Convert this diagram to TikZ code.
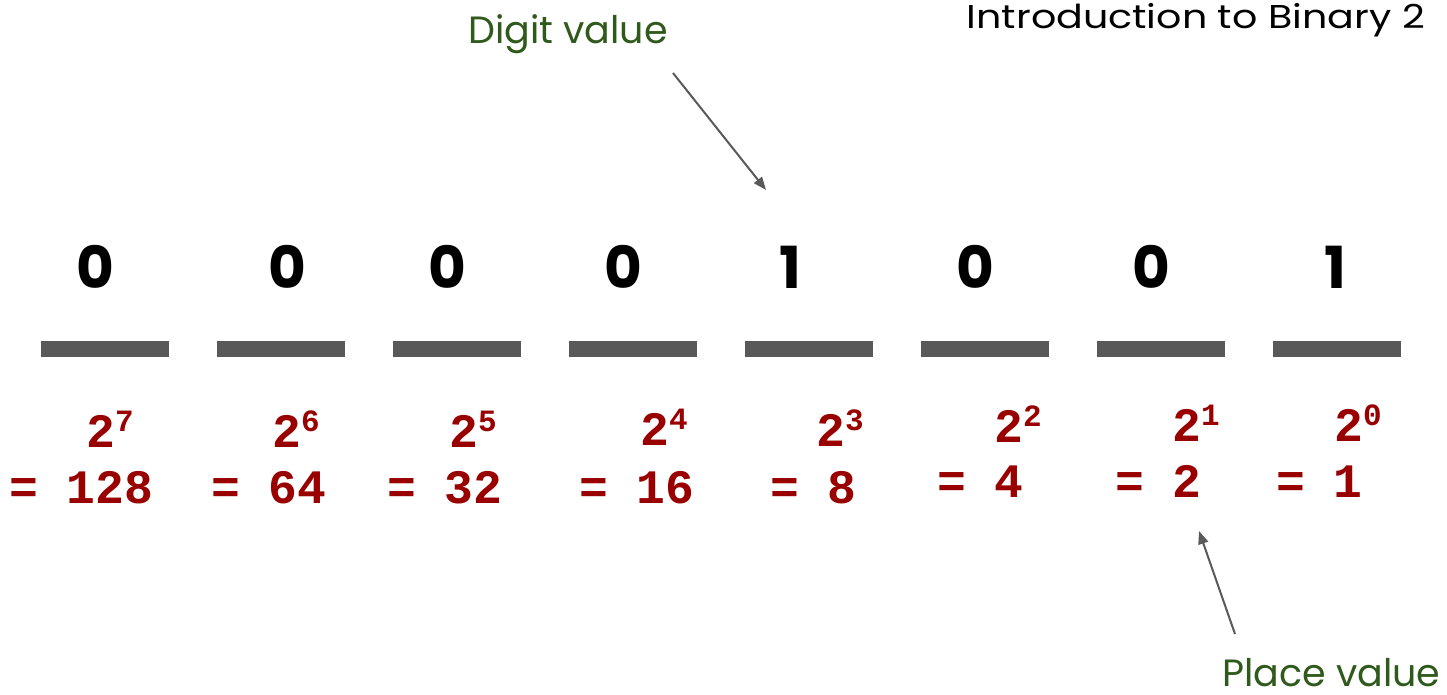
\documentclass[tikz,border=0pt]{standalone}
\usepackage{fontspec}
\setmainfont{Poppins}
\newfontfamily\widefont{Poppins}[FakeStretch=1.2]
\newfontfamily\monob{Liberation Mono}[BoldFont={Liberation Mono Bold}]
\usetikzlibrary{arrows.meta}
\definecolor{dgreen}{HTML}{2F5A1C}
\definecolor{dred}{HTML}{990000}
\definecolor{bargray}{HTML}{595959}
\tikzset{
  bitdigit/.style={font=\fontsize{58}{60}\selectfont\bfseries, anchor=base, inner sep=0pt},
  bar/.style={fill=bargray, draw=none},
  powtxt/.style={font=\fontsize{48}{50}\monob\bfseries, text=dred, anchor=base west, inner sep=0pt},
  eqtxt/.style={font=\fontsize{48}{50}\monob\bfseries, text=dred, anchor=base west, inner sep=0pt},
  labtxt/.style={font=\fontsize{38}{40}\selectfont, text=dgreen, inner sep=0pt},
  pointer/.style={draw=bargray, line width=2pt, -{Triangle[length=13pt,width=10pt]}},
}
\newcommand{\pw}[1]{2\raisebox{16pt}{\fontsize{31}{33}\selectfont #1}}
\begin{document}
\begin{tikzpicture}[x=1pt,y=-1pt]
\useasboundingbox (0,0) rectangle (1447,694);
% title
\node[font=\fontsize{33}{36}\widefont, anchor=base east, inner sep=0pt] (title) at (1425,28) {Introduction to Binary 2};
% labels
\node[labtxt, anchor=base west] (digitlab) at (468,43) {Digit value};
\node[labtxt, anchor=base west, text depth=0pt] (placelab) at (1222,686) {Place value};
% digits
\foreach \x/\d [count=\i] in {95/0,287/0,447/0,623/0,790/1,975/0,1151/0,1335/1}
  \node[bitdigit] (d\i) at (\x,288) {\d};
% bars
\foreach \x [count=\i] in {41,217,393,569,745,921,1097,1273}
  \fill[bar] (\x,341) rectangle ++(128,16);
% powers
\node[powtxt] (p7) at (86,447) {\pw{7}};
\node[powtxt] (p6) at (272,447) {\pw{6}};
\node[powtxt] (p5) at (449,447) {\pw{5}};
\node[powtxt] (p4) at (640,445) {\pw{4}};
\node[powtxt] (p3) at (816,446) {\pw{3}};
\node[powtxt] (p2) at (994,442) {\pw{2}};
\node[powtxt] (p1) at (1172,441) {\pw{1}};
\node[powtxt] (p0) at (1334,441) {\pw{0}};
% values
\node[eqtxt] (v7) at (9,503) {= 128};
\node[eqtxt] (v6) at (211,503) {= 64};
\node[eqtxt] (v5) at (387,503) {= 32};
\node[eqtxt] (v4) at (579,503) {= 16};
\node[eqtxt] (v3) at (770,503) {= 8};
\node[eqtxt] (v2) at (937,497) {= 4};
\node[eqtxt] (v1) at (1115,497) {= 2};
\node[eqtxt] (v0) at (1276,497) {= 1};
% arrows
\coordinate (a1s) at (673,73);
\coordinate (a1e) at (766,190);
\coordinate (a2s) at (1235,634);
\coordinate (a2e) at (1199,531);
\draw[pointer] (a1s) -- (a1e);
\draw[pointer] (a2s) -- (a2e);
\end{tikzpicture}
\end{document}
